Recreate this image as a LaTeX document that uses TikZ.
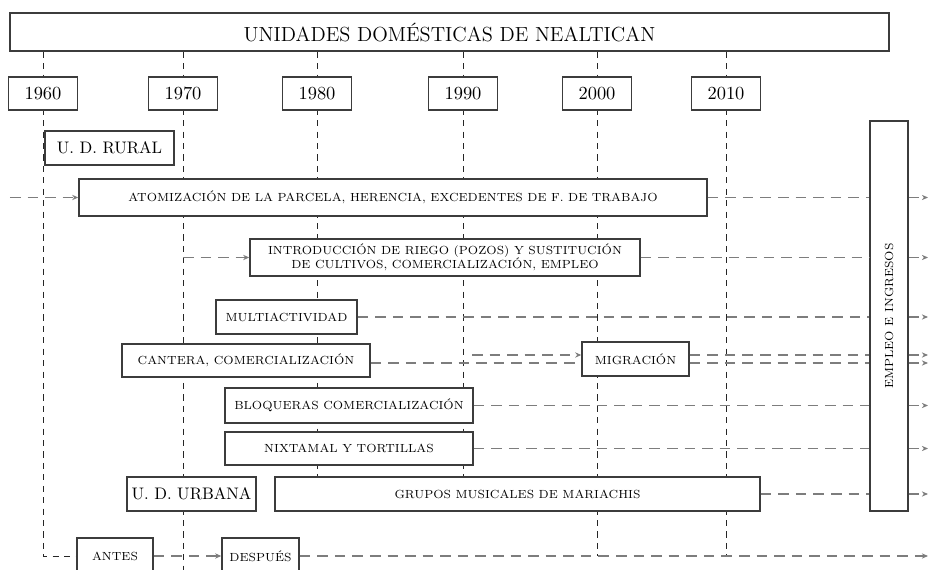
\documentclass[tikz,border=0pt]{standalone}
\usepackage{amsmath, amssymb}
\usepackage{color}
\usetikzlibrary{arrows.meta,backgrounds}

\definecolor{boxline}{RGB}{60,60,60}
\definecolor{flowgray}{RGB}{125,125,125}

\tikzset{
	box/.style={draw=boxline, line width=0.8pt, fill=white, inner sep=1pt, font=\fontsize{6.7}{8.3}\selectfont, align=center},
	yearbox/.style={box, minimum width=1.38cm, minimum height=0.66cm, font=\fontsize{10.5}{12}\selectfont},
	guide/.style={draw=black!85, line width=0.45pt, dash pattern=on 3.5pt off 3pt},
	flow/.style={draw=flowgray, line width=0.65pt, dash pattern=on 6pt off 4pt},
	>={Stealth[length=3.5pt, width=3pt]}
}

\begin{document}
\begin{tikzpicture}
		\useasboundingbox (0,0) rectangle (18.58, 11.40);
		% boxes
		\node[box, minimum width=17.58cm, minimum height=0.76cm, font=\fontsize{11.6}{13}\selectfont] (title) at (8.99, 10.76) {UNIDADES DOMÉSTICAS DE NEALTICAN};
		\node[yearbox] (y1960) at (0.86, 9.53) {1960};
		\node[yearbox] (y1970) at (3.66, 9.53) {1970};
		\node[yearbox] (y1980) at (6.34, 9.53) {1980};
		\node[yearbox] (y1990) at (9.26, 9.53) {1990};
		\node[yearbox] (y2000) at (11.94, 9.53) {2000};
		\node[yearbox] (y2010) at (14.52, 9.53) {2010};
		\node[box, minimum width=2.58cm, minimum height=0.68cm, font=\fontsize{9.5}{11}\selectfont] (rural) at (2.19, 8.44) {U. D. RURAL};
		\node[box, minimum width=12.56cm, minimum height=0.74cm] (atom) at (7.86, 7.45) {ATOMIZACIÓN DE LA PARCELA, HERENCIA, EXCEDENTES DE F. DE TRABAJO};
		\node[box, minimum width=7.80cm, minimum height=0.74cm] (riego) at (8.90, 6.25) {INTRODUCCIÓN DE RIEGO (POZOS) Y SUSTITUCIÓN\\DE CULTIVOS, COMERCIALIZACIÓN, EMPLEO};
		\node[box, minimum width=2.82cm, minimum height=0.68cm] (multi) at (5.73, 5.06) {MULTIACTIVIDAD};
		\node[box, minimum width=4.96cm, minimum height=0.66cm] (cantera) at (4.92, 4.19) {CANTERA, COMERCIALIZACIÓN};
		\node[box, minimum width=2.14cm, minimum height=0.68cm] (migra) at (12.71, 4.22) {MIGRACIÓN};
		\node[box, minimum width=4.96cm, minimum height=0.70cm] (bloq) at (6.98, 3.29) {BLOQUERAS COMERCIALIZACIÓN};
		\node[box, minimum width=4.96cm, minimum height=0.66cm] (nixt) at (6.98, 2.43) {NIXTAMAL Y TORTILLAS};
		\node[box, minimum width=2.58cm, minimum height=0.68cm, font=\fontsize{9.5}{11}\selectfont] (urbana) at (3.83, 1.52) {U. D. URBANA};
		\node[box, minimum width=9.70cm, minimum height=0.68cm] (grupos) at (10.35, 1.52) {GRUPOS MUSICALES DE MARIACHIS};
		\node[box, minimum width=1.52cm, minimum height=0.72cm] (antes) at (2.30, 0.28) {ANTES};
		\node[box, minimum width=1.54cm, minimum height=0.72cm] (despues) at (5.21, 0.28) {DESPUÉS};
		\node[box, minimum width=0.76cm, minimum height=7.80cm] (empleo) at (17.78, 5.08) {\rotatebox{90}{EMPLEO E INGRESOS}};
		\coordinate (lstart) at (0.20, 7.45);
		\coordinate (mstart) at (9.44, 4.30);
		\coordinate (rend) at (18.56, 0);
		\coordinate (bottom) at (0, -0.20);
		% decades
		\begin{scope}[on background layer]
			\draw[guide] (y1960 |- title.south) -- (y1960 |- antes.center) -- (antes.west);
			\draw[guide] (y1970 |- title.south) -- (y1970 |- bottom);
			\draw[guide] (y1980 |- title.south) -- (y1980 |- grupos.north);
			\draw[guide] (y1990 |- title.south) -- (y1990 |- grupos.north);
			\draw[guide] (y2000 |- title.south) -- (y2000 |- antes.center);
			\draw[guide] (y2010 |- title.south) -- (y2010 |- antes.center);
		\end{scope}
		% flows
		\draw[flow, ->] (lstart) -- (atom.west);
		\draw[flow, ->] (y1970 |- riego.west) -- (riego.west);
		\foreach \n in {atom, riego, multi, bloq, nixt, grupos}
		{
			\draw[flow] (\n.east) -- (\n.east -| empleo.west);
			\draw[flow, ->] (\n.east -| empleo.east) -- (\n.east -| rend);
		}
		\draw[flow, ->] (mstart) -- (mstart -| migra.west);
		\draw[flow] ([yshift=-0.05cm]cantera.east) -- ([yshift=-0.05cm]cantera.east -| migra.west);
		\foreach \dy in {0.08, -0.08}
		{
			\draw[flow] ([yshift=\dy cm]migra.east) -- ([yshift=\dy cm]migra.east -| empleo.west);
			\draw[flow, ->] ([yshift=\dy cm]migra.east -| empleo.east) -- ([yshift=\dy cm]migra.east -| rend);
		}
		\draw[flow, ->] (antes.east) -- (despues.west);
		\draw[flow, ->] (despues.east) -- (despues.east -| rend);
	\end{tikzpicture}
\end{document}
